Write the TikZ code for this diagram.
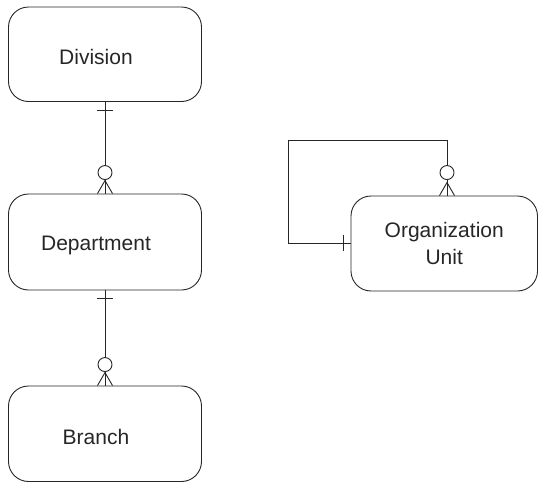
\documentclass[tikz,border=0pt]{standalone}
\usepackage{fontspec}
\setmainfont{Liberation Sans}
\usetikzlibrary{calc}
\begin{document}
\begin{tikzpicture}[x=1pt,y=-1pt,
  entity/.style={draw=black!85, line width=0.9pt, rounded corners=20pt, align=center,
    font=\fontsize{21}{27}\selectfont, text=black!85, inner sep=0pt},
  lbl/.style={font=\fontsize{21}{27}\selectfont, text=black!85, align=center, inner sep=0pt},
  conn/.style={draw=black!85, line width=0.9pt},
  optcircle/.style={draw=black!85, line width=0.9pt, fill=white}]
\useasboundingbox (0,0) rectangle (539,482);
\node[entity, minimum width=193pt, minimum height=94.5pt,
  label={[lbl, xshift=-9pt, yshift=-3pt]center:Division}] (div) at (105,54.25) {};
\node[entity, minimum width=193pt, minimum height=96pt,
  label={[lbl, xshift=-9pt, yshift=-3.5pt]center:Department}] (dep) at (105,242) {};
\node[entity, minimum width=193pt, minimum height=95.5pt,
  label={[lbl, xshift=-9pt, yshift=-3pt]center:Branch}] (br) at (105,433.75) {};
\node[entity, minimum width=186.5pt, minimum height=95pt] (ou) at (444.25,243.5) {Organization\\Unit};
% Division -> Department
\draw[conn] (div.south) -- (dep.north);
\draw[conn] ($(div.south)+(-8,8.5)$) -- ($(div.south)+(8,8.5)$);
\draw[conn] ($(dep.north)+(-7.5,0)$) -- ($(dep.north)+(0,-13)$) -- ($(dep.north)+(7.5,0)$);
\draw[optcircle] ($(dep.north)+(0,-21)$) circle[radius=7];
% Department -> Branch
\draw[conn] (dep.south) -- (br.north);
\draw[conn] ($(dep.south)+(-8,7.5)$) -- ($(dep.south)+(8,7.5)$);
\draw[conn] ($(br.north)+(-7.5,0)$) -- ($(br.north)+(0,-13)$) -- ($(br.north)+(7.5,0)$);
\draw[optcircle] ($(br.north)+(0,-21)$) circle[radius=7];
% Organization Unit recursive
\coordinate (c1) at (447,140);
\coordinate (c2) at (288,140);
\coordinate (c3) at (288,243);
\draw[conn] (ou.west |- c3) -- (c3) -- (c2) -- (c1) -- (c1 |- ou.north);
\draw[conn] ($(ou.west |- c3)+(-7,-8)$) -- ($(ou.west |- c3)+(-7,8)$);
\draw[conn] ($(c1 |- ou.north)+(-7.5,0)$) -- ($(c1 |- ou.north)+(0,-13)$) -- ($(c1 |- ou.north)+(7.5,0)$);
\draw[optcircle] ($(c1 |- ou.north)+(0,-23)$) circle[radius=7];
\end{tikzpicture}
\end{document}
